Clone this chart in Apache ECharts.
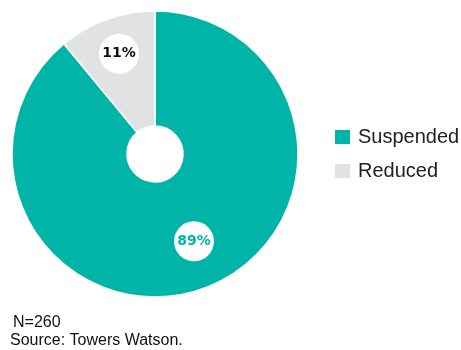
<!DOCTYPE html>
<html><head><meta charset="utf-8">
<script src="https://cdn.jsdelivr.net/npm/echarts@6/dist/echarts.min.js"></script>
<style>html,body{margin:0;padding:0;background:#fff}#c{width:461px;height:350px}</style>
</head><body><div id="c"></div>
<script>
const categories = ['Suspended', 'Reduced'];
const values = [89, 11];
const colors = ['#00B5A8', '#E1E2E4'];
const labelColors = ['#00B5A8', '#111111'];
const labelOffsets = [[9, 4], [-6, -17]];
const noteLines = ['N=260', 'Source: Towers Watson.'];

const chart = echarts.init(document.getElementById('c'));
chart.setOption({
  animation: false,
  legend: {
    orient: 'vertical', left: 333, top: 127, padding: 0,
    itemWidth: 17, itemHeight: 16, itemGap: 14,
    icon: 'rect',
    textStyle: { fontFamily: 'Liberation Sans', fontSize: 20, color: '#222', padding: [0,0,0,2] },
    data: categories
  },
  title: [
    { text: noteLines[0], left: 13, top: 315, padding: 0, textStyle: { fontFamily: 'Liberation Sans', fontSize: 16, fontWeight: 'normal', color: '#111' } },
    { text: noteLines[1], left: 10, top: 333, padding: 0, textStyle: { fontFamily: 'Liberation Sans', fontSize: 16, fontWeight: 'normal', color: '#111' } }
  ],
  series: [{
    type: 'pie',
    center: [155, 154],
    radius: [28, 143],
    startAngle: 90,
    clockwise: true,
    itemStyle: { borderColor: '#fff', borderWidth: 1.5 },
    label: {
      show: true, position: 'inside',
      formatter: '{d}%',
      backgroundColor: '#fff',
      width: 40, height: 40, lineHeight: 40, borderRadius: 20,
      align: 'center', verticalAlign: 'middle',
      fontFamily: 'DejaVu Sans', fontWeight: 'bold', fontSize: 14
    },
    labelLine: { show: false },
    emphasis: { disabled: true },
    data: categories.map((c, i) => ({
      name: c, value: values[i],
      itemStyle: { color: colors[i] },
      label: { color: labelColors[i], offset: labelOffsets[i] }
    }))
  }]
});
</script></body></html>
